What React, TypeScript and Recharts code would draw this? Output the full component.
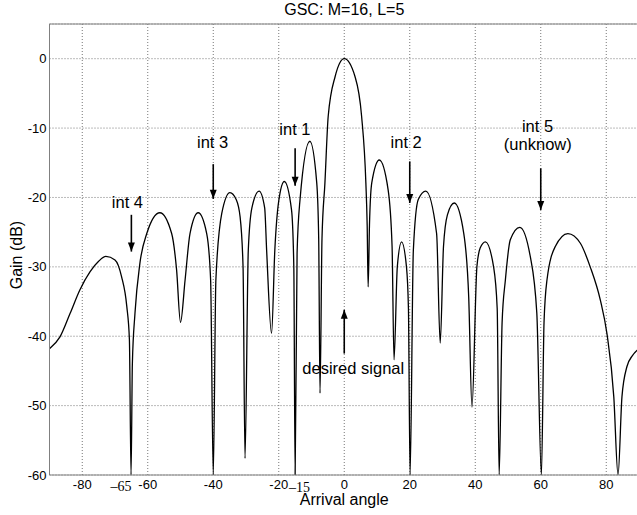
import { CartesianGrid, Line, LineChart, ReferenceDot, ReferenceLine, XAxis, YAxis } from "recharts";

const angles = [
  -90, -86.8, -83.7, -80.7, -77.6, -75.0, -72.8, -70.0, -68.0, -66.4, -65.6, -65.1, -64.7, -63.9, -62.4, -60.3,
  -56.3, -52.7, -51.2, -50.0, -48.6, -47.1, -44.6, -42.0, -40.8, -40.0, -39.2, -37.4, -34.9, -33.0, -31.8, -30.9,
  -30.3, -29.3, -28.2, -26.0, -24.3, -23.7, -22.2, -21.2, -20.0, -18.3, -16.1, -15.4, -15.0, -14.4, -13.5, -10.5,
  -8.4, -7.8, -7.4, -6.8, -5.9, -4.9, -2.8, 0, 3.3, 5.3, 6.6, 7.0, 7.3, 7.7, 8.4, 10.7, 13.4, 14.6, 15.2, 16.2,
  17.5, 19.0, 19.6, 20.1, 21.1, 22.6, 24.9, 28.2, 29.3, 30.3, 31.5, 33.6, 36.5, 38.0, 39.0, 40.5, 41.5, 43.1,
  45.6, 46.7, 47.3, 48.2, 49.2, 50.7, 53.6, 56.8, 58.8, 60.2, 61.0, 61.9, 64.4, 68.3, 72.1, 75.1, 78.2, 80.2,
  82.3, 83.6, 84.8, 86.3, 88.0, 90,
];
const gains = [
  -41.8, -40.1, -36.7, -33.3, -30.7, -29.2, -28.5, -29.0, -31.4, -35.7, -40.5, -60, -44, -36.7, -29.5, -25.2,
  -22.2, -25.2, -30.4, -38.0, -31.9, -25.2, -22.2, -25.2, -31.9, -60, -31.9, -22.3, -19.3, -20.3, -22.8, -30,
  -57.6, -27.6, -21.5, -19.1, -21.5, -27.6, -39.6, -27.6, -20.5, -17.7, -21.8, -30, -60, -28, -20.3, -11.9,
  -17.9, -26, -48.2, -26, -17.9, -8.3, -2.6, 0, -2.6, -8.3, -17.9, -24, -32.9, -24, -17.9, -14.6, -18.9, -27, -43.4, -30.0,
  -26.4, -30.0, -36, -60, -27.6, -20.3, -19.1, -25.2, -41.0, -27.1, -22.5, -20.8, -25.2, -34.3, -50.2, -30.0, -27.3, -26.4,
  -30.0, -36, -60, -38, -31.9, -26.1, -24.3, -28.5, -36.7, -60, -38, -31.9, -27.1, -25.2, -26.6, -30.0, -34.8, -39.6,
  -48.7, -60, -48.7, -44.4, -42.8, -41.8,
];

const xTicks = [-80, -60, -40, -20, 0, 20, 40, 60, 80];
const yTicks = [-60, -50, -40, -30, -20, -10, 0];

// annotation texts and where they sit (angle, gain of baseline)
const noteTexts = ["int 4", "int 3", "int 1", "int 2", "int 5", "(unknow)", "desired signal"];
const noteAngles = [-66.2, -40.2, -15.05, 18.9, 59.0, 59.1, 2.75];
const noteGains = [-21.5, -12.9, -11.0, -12.9, -10.5, -13.1, -45.4];

// arrows: angle, tail gain, tip gain
const arrowAngles = [-65, -40, -15, 20, 60, 0];
const arrowFrom = [-22.5, -15.2, -12.9, -14.8, -15.8, -42.5];
const arrowTo = [-27.8, -20.2, -18.3, -20.8, -21.8, -36.2];

// extra serif tick labels under the axis
const extraTicks = ["\u201365", "\u201315"];
const extraTickAngles = [-68.2, -13.7];

const data = angles.map((a, i) => ({ angle: a, gain: gains[i] }));
const sans = "'Liberation Sans', Arial, sans-serif";

export default function App() {
  return (
    <div style={{ position: "absolute", left: 0, top: 0, width: 637, height: 515, overflow: "hidden", background: "#fff" }}>
      <LineChart width={640} height={515} data={data} margin={{ top: 24, right: 1, left: 0, bottom: 10 }}>
        <CartesianGrid stroke="#777" strokeDasharray="1 2" />
        <XAxis
          type="number"
          dataKey="angle"
          domain={[-90, 90]}
          ticks={xTicks}
          height={30}
          tickLine={false}
          tickSize={0}
          tickMargin={5}
          stroke="#808080"
          tick={{ fill: "#000", fontSize: 13, fontFamily: sans }}
        />
        <YAxis
          type="number"
          domain={[-60, 5]}
          ticks={yTicks}
          width={49.5}
          allowDataOverflow
          tickLine={false}
          tickSize={0}
          tickMargin={3}
          stroke="#808080"
          tick={{ fill: "#000", fontSize: 13, fontFamily: sans }}
        />
        <ReferenceLine y={5} stroke="#808080" />
        <Line type="monotoneX" dataKey="gain" stroke="#000" strokeWidth={1.3} dot={false} isAnimationActive={false} />
        {arrowAngles.map((a, i) => (
          <ReferenceLine key={"al" + i} segment={[{ x: a, y: arrowFrom[i] }, { x: a, y: arrowTo[i] }]} stroke="#000" strokeWidth={1.6} />
        ))}
        {arrowAngles.map((a, i) => (
          <ReferenceDot
            key={"ah" + i}
            x={a}
            y={arrowTo[i]}
            shape={(p: any) => {
              const off = arrowTo[i] < arrowFrom[i] ? -9 : 9;
              return <path d={`M${p.cx - 3.5},${p.cy + off} L${p.cx + 3.5},${p.cy + off} L${p.cx},${p.cy} Z`} fill="#000" />;
            }}
          />
        ))}
        {noteTexts.map((t, i) => (
          <ReferenceDot
            key={"nt" + i}
            x={noteAngles[i]}
            y={noteGains[i]}
            shape={(p: any) => (
              <text x={p.cx} y={p.cy} textAnchor="middle" fontSize={16.5} fontFamily={sans} fill="#000">{t}</text>
            )}
          />
        ))}
        {extraTicks.map((t, i) => (
          <ReferenceDot
            key={"et" + i}
            x={extraTickAngles[i]}
            y={-60}
            shape={(p: any) => (
              <text x={p.cx} y={p.cy + 16 + i} textAnchor="middle" fontSize={14} fontFamily="'Liberation Serif', serif" fill="#000">{t}</text>
            )}
          />
        ))}
        <ReferenceDot
          x={0}
          y={5}
          shape={(p: any) => (
            <text x={p.cx} y={p.cy - 9} textAnchor="middle" fontSize={16} fontFamily={sans} fill="#000">GSC: M=16, L=5</text>
          )}
        />
        <ReferenceDot
          x={0}
          y={-60}
          shape={(p: any) => (
            <text x={p.cx} y={p.cy + 30} textAnchor="middle" fontSize={16} fontFamily={sans} fill="#000">Arrival angle</text>
          )}
        />
        <ReferenceDot
          x={-90}
          y={-28.3}
          shape={(p: any) => (
            <text x={p.cx - 27.5} y={p.cy} transform={`rotate(-90, ${p.cx - 27.5}, ${p.cy})`} textAnchor="middle" fontSize={16} fontFamily={sans} fill="#000">Gain (dB)</text>
          )}
        />
      </LineChart>
    </div>
  );
}
